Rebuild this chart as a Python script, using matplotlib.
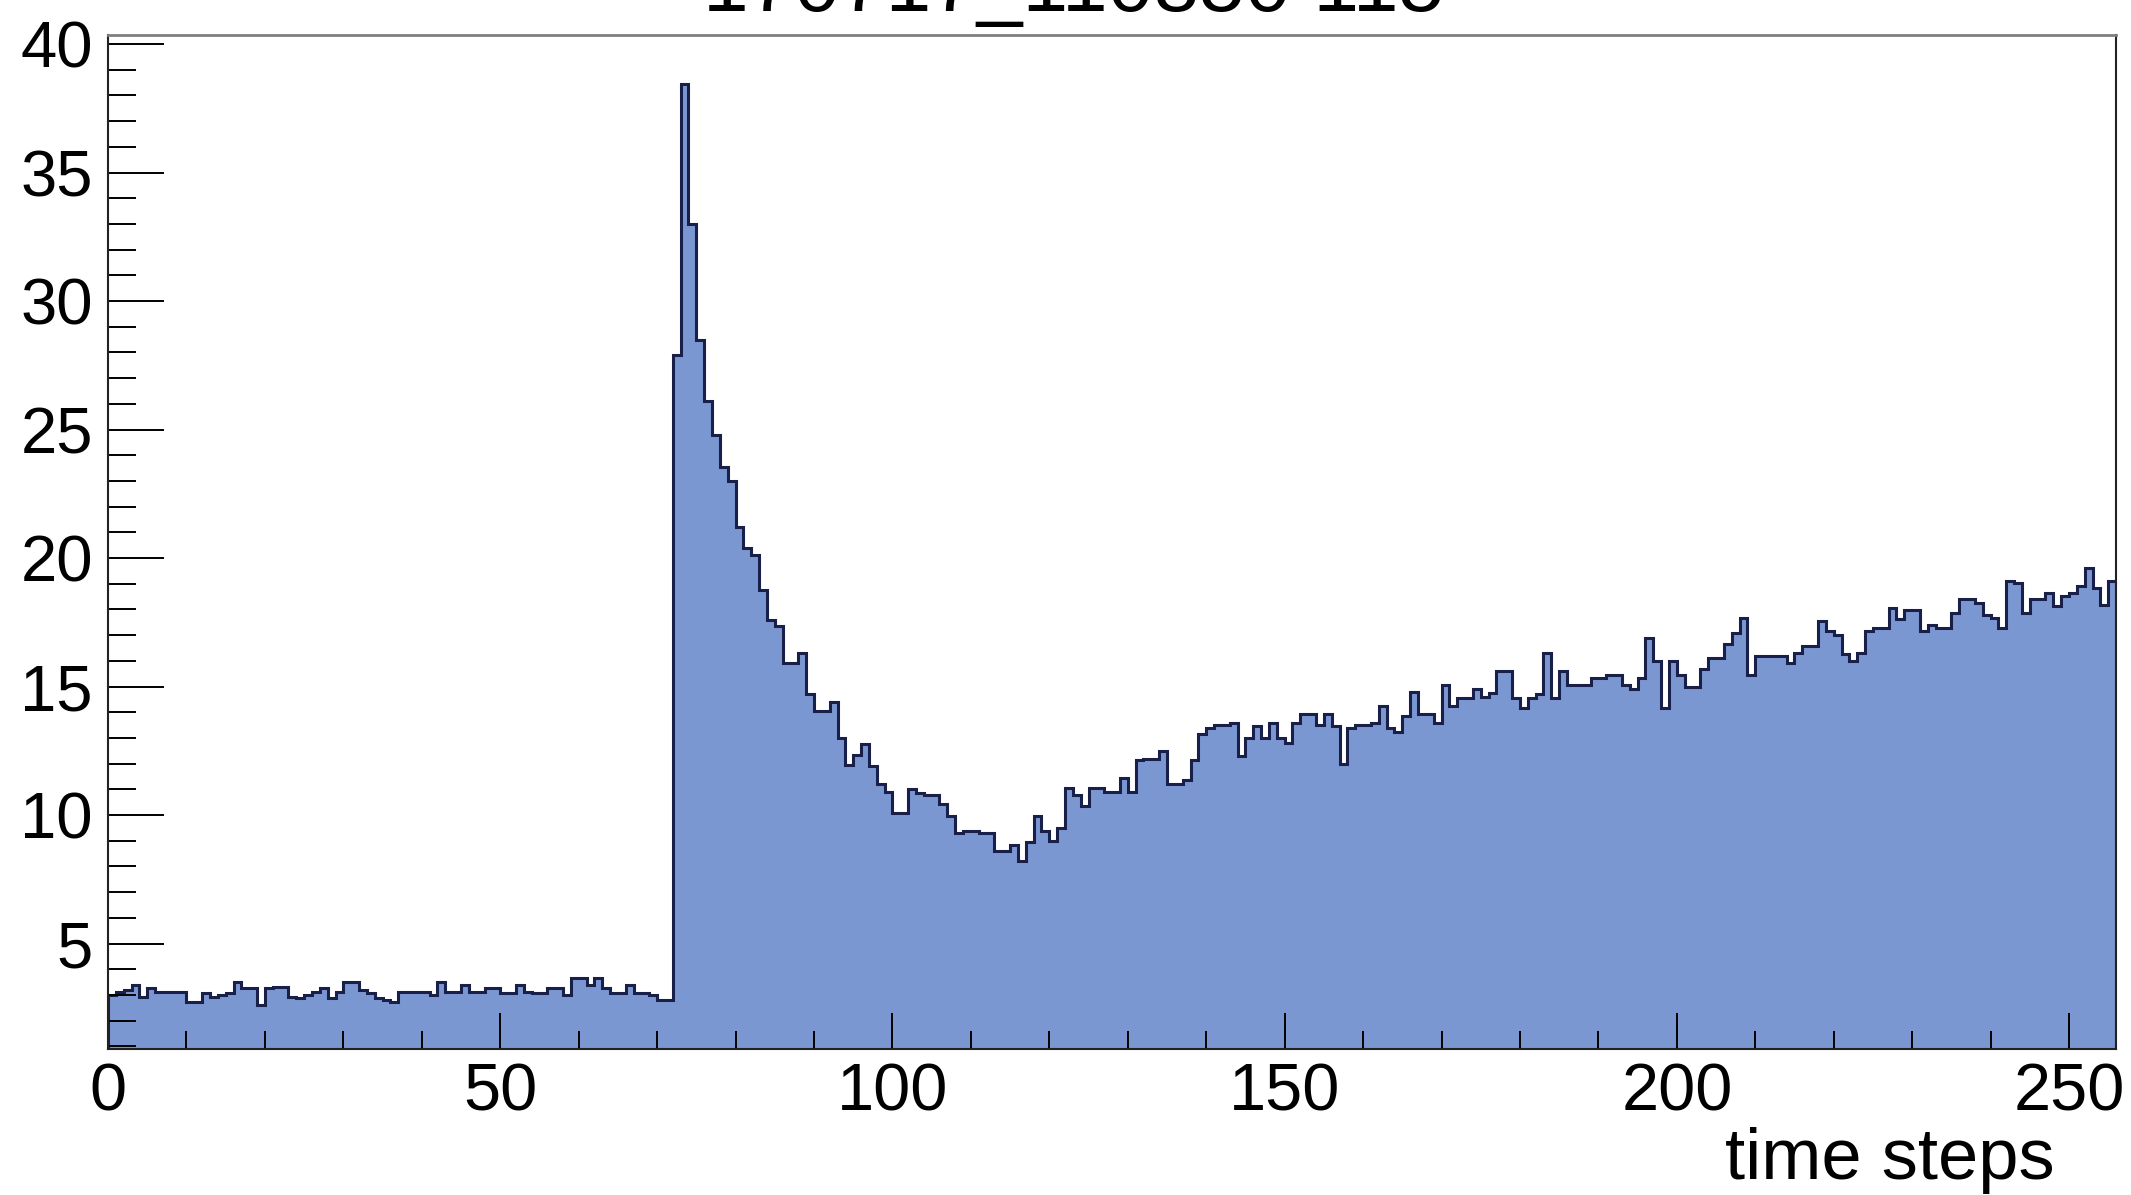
import numpy as np
import matplotlib.pyplot as plt
from matplotlib.ticker import MultipleLocator

# bin contents, one value per time step (256 bins of width 1)
baseline = [3.0, 3.13, 3.2, 3.39, 2.93, 3.26, 3.13, 3.13, 3.13, 3.13,
            2.74, 2.74, 3.07, 2.93, 3.0, 3.07, 3.52, 3.26, 3.26, 2.61,
            3.26, 3.33, 3.33, 2.93, 2.87, 3.0, 3.13, 3.26, 2.87, 3.13,
            3.52, 3.52, 3.2, 3.07, 2.87, 2.8, 2.74, 3.13, 3.13, 3.13,
            3.13, 3.0, 3.52, 3.13, 3.13, 3.39, 3.13, 3.13, 3.26, 3.26,
            3.07, 3.07, 3.39, 3.13, 3.07, 3.07, 3.26, 3.26, 3.0, 3.65,
            3.65, 3.39, 3.65, 3.26, 3.07, 3.07, 3.39, 3.07, 3.07, 3.0,
            2.8, 2.8]
peak = [27.9, 38.45, 33.0, 28.5, 26.1, 24.8, 23.55, 23.0, 21.2, 20.4,
        20.1, 18.75, 17.6, 17.35, 15.9, 15.9, 16.3, 14.7, 14.05, 14.05,
        14.4, 13.0, 11.95, 12.35, 12.75, 11.9, 11.2, 10.9, 10.1, 10.1,
        11.0, 10.85, 10.8, 10.8, 10.45, 9.95, 9.3, 9.4, 9.4, 9.3,
        9.3, 8.6, 8.6, 8.85, 8.2, 8.95, 9.95, 9.4, 9.0, 9.5]
rise = [11.05, 10.8, 10.35, 11.05, 11.05, 10.9, 10.9, 11.45, 10.9, 12.15,
        12.2, 12.2, 12.5, 11.2, 11.2, 11.35, 12.15, 13.15, 13.4, 13.5,
        13.5, 13.6, 12.3, 13.0, 13.45, 13.0, 13.6, 13.0, 12.8, 13.6,
        13.95, 13.95, 13.5, 13.95, 13.45, 12.0, 13.4, 13.5, 13.5, 13.6,
        14.25, 13.4, 13.25, 13.85, 14.8, 13.95, 13.95, 13.6, 15.05, 14.25,
        14.55, 14.55, 14.9, 14.6, 14.75, 15.6, 15.6, 14.55, 14.15, 14.55,
        14.7, 16.3, 14.55, 15.6, 15.05, 15.05, 15.05, 15.35, 15.35, 15.45,
        15.45, 15.05, 14.9, 15.35, 16.9, 16.0, 14.15, 16.0, 15.45, 15.0,
        15.0, 15.7, 16.1, 16.1, 16.65, 17.1, 17.65, 15.45]
tail = [16.18, 16.18, 16.18, 16.18, 15.92, 16.31, 16.57, 16.57, 17.54, 17.15,
        17.02, 16.25, 15.98, 16.31, 17.15, 17.28, 17.28, 18.06, 17.61, 17.99,
        17.99, 17.15, 17.41, 17.28, 17.28, 17.87, 18.39, 18.39, 18.26, 17.8,
        17.67, 17.28, 19.1, 19.04, 17.87, 18.39, 18.39, 18.65, 18.13, 18.52,
        18.65, 18.91, 19.62, 18.84, 18.19, 19.1]

counts = np.array(baseline + peak + rise + tail)
edges = np.arange(len(counts) + 1)

title = "170717_110850 115"
xlabel = "time steps"

plt.rcParams['font.family'] = ['Liberation Sans', 'DejaVu Sans']

fig = plt.figure(figsize=(21.31, 11.95), dpi=100)
ax = fig.add_axes([0.0507, 0.1222, 0.9423, 0.8485])

ax.stairs(counts, edges, fill=True, color='#7b97d2', linewidth=0)
ax.stairs(counts, edges, color='#18204a', linewidth=2.2)

ax.set_xlim(0, 256)
ax.set_ylim(0.9, 40.35)

ax.xaxis.set_major_locator(MultipleLocator(50))
ax.xaxis.set_minor_locator(MultipleLocator(10))
ax.yaxis.set_major_locator(MultipleLocator(5))
ax.yaxis.set_minor_locator(MultipleLocator(1))

ax.tick_params(axis='x', which='major', direction='in', length=26, width=1.4,
               labelsize=48, pad=10, top=False)
ax.tick_params(axis='x', which='minor', direction='in', length=13, width=1.4, top=False)
ax.tick_params(axis='y', which='major', direction='in', length=40, width=1.4,
               labelsize=47, pad=11, right=False)
ax.tick_params(axis='y', which='minor', direction='in', length=20, width=1.4, right=False)

for side in ['left', 'bottom', 'right']:
    ax.spines[side].set_linewidth(1.5)
    ax.spines[side].set_color('#222222')
ax.spines['top'].set_linewidth(2)
ax.spines['top'].set_color('#808080')

fig.text(0.964, 0.013, xlabel, fontsize=52, ha='right', va='baseline')
# the title sits mostly above the canvas, as in the original image
fig.text(0.504, 0.9908, title, fontsize=59, ha='center', va='baseline')

fig.savefig('out.png', dpi=100)
